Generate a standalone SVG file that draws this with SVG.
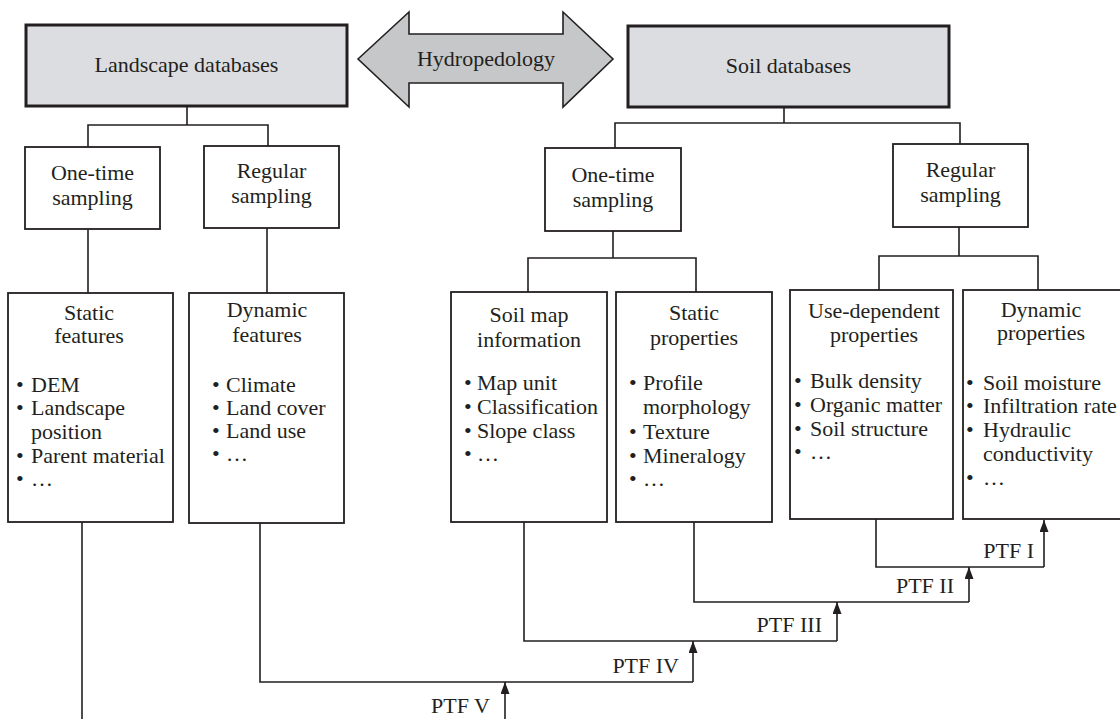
<svg xmlns="http://www.w3.org/2000/svg" width="1120" height="719" viewBox="0 0 1120 719">
  <style>
    text { font-family: "Liberation Serif", "Times New Roman", serif; font-size: 22px; fill: #231f20; }
    .c { text-anchor: middle; }
    .e { text-anchor: end; }
    .db { fill: #dcdde0; stroke: #231f20; stroke-width: 3; }
    .box { fill: #ffffff; stroke: #231f20; stroke-width: 1.8; }
    .link { fill: none; stroke: #231f20; stroke-width: 1.6; }
  </style>
  <defs>
    <marker id="tip" markerUnits="userSpaceOnUse" markerWidth="12" markerHeight="9" viewBox="0 0 12 9" refX="12" refY="4.5" orient="auto">
      <path d="M0,0 L12,4.5 L0,9 z" fill="#231f20"/>
    </marker>
  </defs>
  <rect width="1120" height="719" fill="#ffffff"/>

  <!-- databases and the link between them -->
  <g id="landscape-db">
    <rect class="db" x="26" y="25" width="321" height="81"/>
    <text class="c" x="186.5" y="72">Landscape databases</text>
  </g>
  <g id="hydropedology">
    <polygon points="358,59 409,12 409,34 563,34 563,12 613,59 563,107 563,83 409,83 409,107" fill="#c6c7c9" stroke="#231f20" stroke-width="1.6"/>
    <text class="c" x="486" y="66">Hydropedology</text>
  </g>
  <g id="soil-db">
    <rect class="db" x="628" y="26" width="321" height="81"/>
    <text class="c" x="788.5" y="73">Soil databases</text>
  </g>

  <!-- sampling boxes -->
  <g id="land-onetime">
    <rect class="box" x="25" y="147" width="135" height="82"/>
    <text class="c" x="92.5" y="180">One-time</text>
    <text class="c" x="92.5" y="205">sampling</text>
  </g>
  <g id="land-regular">
    <rect class="box" x="204" y="146" width="135" height="82"/>
    <text class="c" x="271.5" y="178">Regular</text>
    <text class="c" x="271.5" y="203">sampling</text>
  </g>
  <g id="soil-onetime">
    <rect class="box" x="545" y="148" width="136" height="83"/>
    <text class="c" x="613" y="182">One-time</text>
    <text class="c" x="613" y="207">sampling</text>
  </g>
  <g id="soil-regular">
    <rect class="box" x="893" y="144" width="135" height="83"/>
    <text class="c" x="960.5" y="177">Regular</text>
    <text class="c" x="960.5" y="202">sampling</text>
  </g>

  <!-- feature / property boxes -->
  <g id="static-features">
    <rect class="box" x="8" y="293" width="165" height="229"/>
    <text class="c" x="89" y="320">Static</text>
    <text class="c" x="89" y="343">features</text>
    <text x="16" y="392">•</text><text x="31" y="392">DEM</text>
    <text x="16" y="415">•</text><text x="31" y="415">Landscape</text>
    <text x="31" y="439">position</text>
    <text x="16" y="463">•</text><text x="31" y="463">Parent material</text>
    <text x="16" y="486">•</text><text x="31" y="486">…</text>
  </g>
  <g id="dynamic-features">
    <rect class="box" x="189" y="293" width="155" height="230"/>
    <text class="c" x="267" y="317">Dynamic</text>
    <text class="c" x="267" y="342">features</text>
    <text x="212" y="392">•</text><text x="226" y="392">Climate</text>
    <text x="212" y="415">•</text><text x="226" y="415">Land cover</text>
    <text x="212" y="438">•</text><text x="226" y="438">Land use</text>
    <text x="212" y="461">•</text><text x="226" y="461">…</text>
  </g>
  <g id="soil-map">
    <rect class="box" x="451" y="292" width="156" height="230"/>
    <text class="c" x="529" y="322">Soil map</text>
    <text class="c" x="529" y="347">information</text>
    <text x="464" y="390">•</text><text x="477" y="390">Map unit</text>
    <text x="464" y="414">•</text><text x="477" y="414">Classification</text>
    <text x="464" y="438">•</text><text x="477" y="438">Slope class</text>
    <text x="464" y="461">•</text><text x="477" y="461">…</text>
  </g>
  <g id="static-properties">
    <rect class="box" x="616" y="292" width="156" height="230"/>
    <text class="c" x="694" y="320">Static</text>
    <text class="c" x="694" y="345">properties</text>
    <text x="629" y="390">•</text><text x="643" y="390">Profile</text>
    <text x="643" y="414">morphology</text>
    <text x="629" y="439">•</text><text x="643" y="439">Texture</text>
    <text x="629" y="463">•</text><text x="643" y="463">Mineralogy</text>
    <text x="629" y="486">•</text><text x="643" y="486">…</text>
  </g>
  <g id="use-dependent">
    <rect class="box" x="790" y="290" width="163" height="229"/>
    <text class="c" x="874" y="318">Use-dependent</text>
    <text class="c" x="874" y="342">properties</text>
    <text x="794" y="388">•</text><text x="810" y="388">Bulk density</text>
    <text x="794" y="412">•</text><text x="810" y="412">Organic matter</text>
    <text x="794" y="436">•</text><text x="810" y="436">Soil structure</text>
    <text x="794" y="459">•</text><text x="810" y="459">…</text>
  </g>
  <g id="dynamic-properties">
    <rect class="box" x="963" y="290" width="160" height="229"/>
    <text class="c" x="1041" y="317">Dynamic</text>
    <text class="c" x="1041" y="340">properties</text>
    <text x="966" y="390">•</text><text x="983" y="390">Soil moisture</text>
    <text x="966" y="413">•</text><text x="983" y="413">Infiltration rate</text>
    <text x="966" y="437">•</text><text x="983" y="437">Hydraulic</text>
    <text x="983" y="461">conductivity</text>
    <text x="966" y="485">•</text><text x="983" y="485">…</text>
  </g>

  <!-- tree branches and pedotransfer paths -->
  <g id="connectors">
    <path class="link" d="M187,106 V125 M88,147 V125 H268 V146"/>
    <path class="link" d="M88,229 V293 M267,228 V293"/>
    <path class="link" d="M784,107 V123 M615,148 V123 H960 V144"/>
    <path class="link" d="M613,231 V258 M528,292 V258 H696 V292"/>
    <path class="link" d="M959,227 V256 M879,290 V256 H1038 V290"/>

    <path class="link" d="M82,522 V719"/>
    <path class="link" d="M260,523 V682 H693"/>
    <path class="link" d="M524,522 V641 H837"/>
    <path class="link" d="M694,522 V602 H969"/>
    <path class="link" d="M876,519 V567 H1044"/>

    <path class="link" d="M505,719 V682" marker-end="url(#tip)"/>
    <path class="link" d="M693,682 V641" marker-end="url(#tip)"/>
    <path class="link" d="M837,641 V602" marker-end="url(#tip)"/>
    <path class="link" d="M969,602 V567" marker-end="url(#tip)"/>
    <path class="link" d="M1044,567 V520" marker-end="url(#tip)"/>

    <text class="e" x="490" y="713">PTF V</text>
    <text class="e" x="679" y="673">PTF IV</text>
    <text class="e" x="822" y="632">PTF III</text>
    <text class="e" x="954" y="593">PTF II</text>
    <text class="e" x="1034" y="558">PTF I</text>
  </g>
</svg>
